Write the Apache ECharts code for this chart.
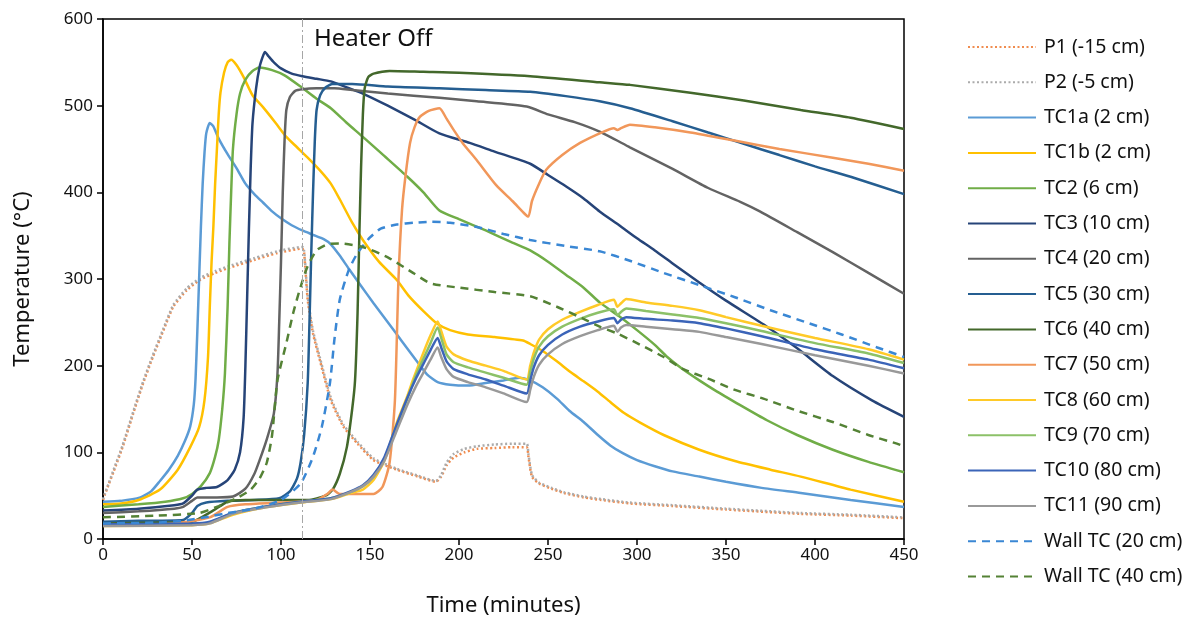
<!DOCTYPE html>
<html lang="en">
<head>
    <meta charset="UTF-8">
    <title>Temperature vs time</title>
    <script src="https://cdn.jsdelivr.net/npm/echarts@6/dist/echarts.min.js"></script>
    <style>
        html, body { margin: 0; padding: 0; background: #fff; }
        #box { width: 1202px; height: 622px; }
    </style>
</head>
<body>
    <div id="box"></div>
<script>
    // [minutes, degC] pairs
    var P1 = [[0,45],[1,51],[3,62],[6,78],[11,106],[17,145],[22.6,180],[28,210],[34,241],[39.5,268],[47,287],[54.5,299],[63,307],[71,313],[85,322],[98,330],[112,335],[113,330],[115,276],[118,237],[122,205],[128,160],[135,130],[143,110],[152,91],[165,80],[177,72],[187,66],[190,72],[193,85],[197,94],[203,100],[210,104],[220,105],[230,106],[238,106],[239,95],[241,72],[245,64],[252,58],[259,53],[270,48],[280,45],[296,41],[320,38],[350,34],[392,29],[420,27],[450,24]];
    var P2 = [[0,46],[1,52],[3,63],[6,80],[11,108],[17,147],[22.6,182],[28,212],[34,243],[39.5,270],[47,289],[54.5,301],[63,309],[71,315],[85,324],[98,332],[112,337],[113,332],[115,280],[118,240],[122,208],[128,163],[135,132],[143,112],[152,93],[165,81],[177,73],[187,67],[190,74],[193,88],[197,98],[203,104],[210,107],[220,109],[230,110],[238,110],[239,98],[241,74],[245,65],[252,59],[259,54],[270,49],[280,46],[296,42],[320,39],[350,35],[392,30],[420,28],[450,25]];
    var TC1a = [[0,43],[10,44],[21,48],[27,55],[32,67],[37,80],[42,96],[46,113],[49,130],[51,155],[52,185],[53,240],[54,300],[55,360],[56,410],[57,445],[58,468],[60,480],[62,476],[65,462],[70,444],[75,428],[80,410],[85,398],[90,388],[95,378],[100,370],[106,362],[112,356],[118,351],[124,346],[128,340],[133,327],[138,312],[145,292],[152,272],[160,250],[168,228],[176,206],[182,190],[188,181],[195,178],[205,177],[215,180],[225,183],[234,186],[240,183],[247,175],[255,162],[262,148],[270,135],[278,120],[285,108],[292,99],[300,91],[310,84],[320,78],[335,72],[350,66],[370,59],[392,53],[420,45],[450,37]];
    var TC1b = [[0,40],[10,41],[20,45],[32,57],[42,80],[49,106],[54,129],[57,160],[59,210],[60,268],[61,320],[62,360],[63,410],[64,450],[65,490],[66,515],[68,538],[70,550],[72,553],[75,547],[79,533],[84,512],[90,498],[97,480],[103,464],[109,452],[115,440],[122,425],[128,410],[133,392],[140,365],[146,345],[155,320],[165,299],[172,280],[180,263],[188,248],[195,241],[205,236],[220,233],[236,229],[240,225],[247,217],[255,205],[263,192],[270,182],[278,170],[285,158],[293,145],[302,134],[315,120],[335,103],[355,90],[375,80],[392,72],[420,57],[450,43]];
    var TC2 = [[0,37],[20,40],[35,43],[45,47],[50,52],[55,61],[60,76],[63,95],[65,114],[67,150],[68.5,191],[70,268],[71,340],[72,400],[73,450],[75,490],[77,514],[80,530],[84,540],[88,544],[95,541],[102,535],[111,522],[120,508],[128,497],[137,480],[146,464],[158,442],[171,418],[180,400],[189,379],[200,369],[215,356],[230,342],[240,333],[250,320],[260,305],[270,290],[279,273],[290,257],[300,241],[310,224],[317,210],[325,197],[335,183],[345,170],[355,158],[373,137],[390,120],[410,103],[430,89],[450,77]];
    var TC3 = [[0,33],[20,35],[40,39],[45,41],[50,50],[53,57],[58,59],[64,60],[70,68],[74,80],[77,100],[79,140],[80,200],[81,280],[82,360],[83,430],[84,480],[86,520],[88,545],[90,558],[91,562],[93,557],[96,550],[100,543],[106,537],[112,534],[120,531],[128,528],[137,521],[146,514],[160,500],[175,484],[189,468],[206,457],[220,447],[240,433],[250,420],[260,407],[270,393],[279,378],[290,362],[300,347],[310,333],[320,318],[335,296],[350,275],[373,245],[390,220],[410,188],[432,160],[450,141]];
    var TC4 = [[0,30],[20,32],[40,35],[45,37],[50,44],[53,48],[64,48],[73,49],[80,58],[85,75],[88,91],[92,115],[96,145],[98,190],[99,250],[100,320],[101,400],[102,460],[103,495],[105,510],[108,517],[112,519],[120,520],[130,520],[140,518],[160,514],[189,509],[210,505],[238,499],[250,490],[265,481],[279,470],[296,452],[320,427],[340,405],[358,389],[369,378],[390,354],[410,331],[430,307],[450,283]];
    var TC5 = [[0,20],[20,21],[45,22],[50,30],[53,38],[58,42],[70,44],[85,45],[99,47],[105,55],[109,70],[111,88],[113,120],[115,180],[116,250],[117,330],[118,400],[119,460],[120,495],[122,512],[125,521],[129,525],[140,525],[160,522],[189,520],[215,518],[240,516],[260,511],[279,505],[296,497],[320,482],[340,469],[360,456],[380,443],[400,430],[420,418],[450,398]];
    var TC6 = [[0,18],[30,19],[50,20],[62,33],[70,43],[80,45],[100,45],[115,45],[125,50],[129,57],[133,75],[137,106],[140,150],[141.6,183],[143,260],[144,350],[145,430],[146,490],[147,520],[149,533],[152,537],[161,540],[180,539],[200,538],[240,534],[279,527],[296,524],[330,515],[360,506],[392,495],[420,486],[450,473]];
    var TC7 = [[0,16],[40,18],[60,25],[70,37],[80,40],[100,42],[120,45],[126,52],[129,57],[133,52],[140,52],[152,52],[157,60],[161,88],[164,160],[166,300],[168,380],[170,420],[172.5,457],[175,475],[178,487],[183,494],[189,497],[193,485],[197,472],[202,457],[210,437],[221,408],[230,390],[237,375],[239,372],[241,390],[245,410],[249,426],[258,443],[268,457],[280,469],[287,474],[289,472],[291,474],[296,478],[310,475],[330,469],[354,460],[380,450],[410,440],[430,433],[450,425]];
    var TC8 = [[0,15],[50,16],[60,18],[73,28],[90,36],[111,42],[128,46],[139,53],[146,57],[152,68],[158,90],[165,134],[171,165],[174,183],[180,215],[184,235],[188,251],[190,240],[193,222],[197,213],[205,206],[215,200],[225,194],[238,184],[240,200],[242,215],[245,230],[250,242],[258,253],[268,262],[278,270],[287,276],[289,268],[291,272],[294,277],[305,273],[320,269],[335,264],[350,256],[370,246],[400,232],[430,219],[450,207]];
    var TC9 = [[0,16],[50,17],[60,19],[73,30],[90,37],[111,43],[128,47],[139,54],[146,61],[152,72],[158,92],[165,130],[171,162],[176,190],[180,208],[184,226],[188,244],[190,232],[193,213],[197,204],[205,198],[215,192],[225,186],[238,178],[240,193],[242,208],[245,222],[250,234],[258,245],[268,254],[278,261],[287,265],[289,258],[291,262],[294,266],[305,263],[320,259],[335,255],[350,249],[370,240],[400,226],[430,214],[450,203]];
    var TC10 = [[0,17],[50,18],[60,20],[73,30],[90,37],[111,43],[128,47],[139,55],[146,62],[152,74],[158,94],[165,132],[171,163],[176,186],[180,202],[184,218],[188,232],[190,221],[193,205],[197,196],[205,190],[215,184],[225,177],[238,168],[240,183],[242,198],[245,212],[250,224],[258,236],[268,245],[278,251],[287,255],[289,249],[291,253],[294,256],[305,254],[320,252],[335,249],[350,243],[370,234],[400,219],[430,207],[450,197]];
    var TC11 = [[0,15],[50,16],[60,18],[73,29],[90,36],[111,42],[128,46],[139,54],[146,61],[152,72],[158,90],[165,125],[171,155],[176,177],[180,192],[184,207],[188,221],[190,210],[193,196],[197,187],[205,181],[215,175],[225,168],[238,158],[240,172],[242,187],[245,201],[250,213],[258,225],[268,234],[278,241],[287,246],[289,239],[291,244],[294,247],[305,245],[320,242],[335,239],[350,233],[370,225],[400,212],[430,200],[450,191]];
    var wall20 = [[0,18],[30,19],[45,21],[60,26],[70,30],[85,35],[100,45],[111,64],[118,95],[123,130],[127.5,180],[130,230],[133,276],[138,310],[143,330],[150,348],[156,358],[165,363],[175,365],[184,366],[195,365],[210,360],[225,352],[240,345],[260,338],[279,332],[296,321],[315,307],[335,293],[355,279],[375,264],[395,250],[415,236],[435,221],[450,210]];
    var wall40 = [[0,25],[30,27],[54,30],[65,38],[75,47],[83,57],[88,70],[92,88],[95,120],[98,183],[103,226],[107,262],[111,291],[115,315],[120,333],[126,340],[133,341],[146,337],[160,325],[175,306],[184,295],[200,290],[220,285],[240,280],[255,268],[270,254],[279,245],[289,237],[300,226],[315,210],[326,196],[340,185],[355,172],[371,162],[390,148],[410,135],[430,120],[446,110],[450,107]];

    var heaterOff = 112;
    var xTicks = [0, 50, 100, 150, 200, 250, 300, 350, 400, 450];
    var yTicks = [0, 100, 200, 300, 400, 500, 600];

    var names = ["P1 (-15 cm)", "P2 (-5 cm)", "TC1a (2 cm)", "TC1b (2 cm)", "TC2 (6 cm)", "TC3 (10 cm)", "TC4 (20 cm)", "TC5 (30 cm)",
        "TC6 (40 cm)", "TC7 (50 cm)", "TC8 (60 cm)", "TC9 (70 cm)", "TC10 (80 cm)", "TC11 (90 cm)", "Wall TC (20 cm)", "Wall TC (40 cm)"];
    var datas = [P1, P2, TC1a, TC1b, TC2, TC3, TC4, TC5, TC6, TC7, TC8, TC9, TC10, TC11, wall20, wall40];
    var colors = ["#F08C4F", "#ABABAB", "#5B9BD5", "#FFC000", "#70AD47", "#264478", "#636363", "#255E91",
        "#43682B", "#F1975A", "#FFCA28", "#8CC168", "#3B64B8", "#999999", "#3A87D4", "#548235"];
    var styles = ["dot", "dot", "solid", "solid", "solid", "solid", "solid", "solid",
        "solid", "solid", "solid", "solid", "solid", "solid", "dash", "dash"];

    var font = "'Noto Sans', 'DejaVu Sans', sans-serif";
    var box = echarts.init(document.getElementById("box"));

    var series = [];
    for (var i = 0; i < datas.length; i++) {
        var type = styles[i] == "dot" ? [2, 2.5] : (styles[i] == "dash" ? [8, 6] : "solid");
        series.push({
            name: names[i],
            type: "line",
            data: datas[i],
            symbol: "none",
            smooth: 0.2,
            color: colors[i],
            lineStyle: { color: colors[i], width: 2.5, type: type }
        });
    }
    // heater off marker
    series[0].markLine = {
        silent: true,
        symbol: "none",
        label: { show: false },
        lineStyle: { color: "#A6A6A6", width: 1, type: [8, 3, 2, 3] },
        data: [{ xAxis: heaterOff }]
    };

    var option = {
        animation: false,
        backgroundColor: "#fff",
        textStyle: { fontFamily: font },
        grid: {
            left: 103, top: 19, right: 298, bottom: 83,
            show: true, borderColor: "#000", borderWidth: 1.5,
            outerBoundsMode: "none"
        },
        legend: {
            orient: "vertical",
            left: 967, top: 36,
            padding: 0,
            itemWidth: 68, itemHeight: 14, itemGap: 13.3,
            itemStyle: { opacity: 0 },
            data: names,
            textStyle: { fontFamily: font, fontSize: 19.5, color: "#111", lineHeight: 22, padding: [0, 0, 0, 3] }
        },
        xAxis: {
            type: "value",
            min: xTicks[0], max: xTicks[xTicks.length - 1], interval: 50,
            name: "Time (minutes)", nameLocation: "middle", nameGap: 56,
            nameTextStyle: { fontFamily: font, fontSize: 22, color: "#111" },
            axisLine: { lineStyle: { color: "#000", width: 1.5 } },
            axisTick: { show: true, length: 6, lineStyle: { color: "#000", width: 1.5 } },
            axisLabel: { fontFamily: font, fontSize: 17, color: "#111", margin: 8 },
            splitLine: { show: false }
        },
        yAxis: {
            type: "value",
            min: yTicks[0], max: yTicks[yTicks.length - 1], interval: 100,
            name: "Temperature (°C)", nameLocation: "middle", nameGap: 69,
            nameTextStyle: { fontFamily: font, fontSize: 22, color: "#111" },
            axisLine: { show: true, lineStyle: { color: "#000", width: 1.5 } },
            axisTick: { show: true, length: 6, lineStyle: { color: "#000", width: 1.5 } },
            axisLabel: { fontFamily: font, fontSize: 17, color: "#111", margin: 10 },
            splitLine: { show: false }
        },
        graphic: [{
            type: "text", left: 314, top: 27, silent: true,
            style: { text: "Heater Off", fontFamily: font, fontSize: 24, fill: "#111" }
        }],
        series: series
    };
    box.setOption(option);
</script>
</body>
</html>
